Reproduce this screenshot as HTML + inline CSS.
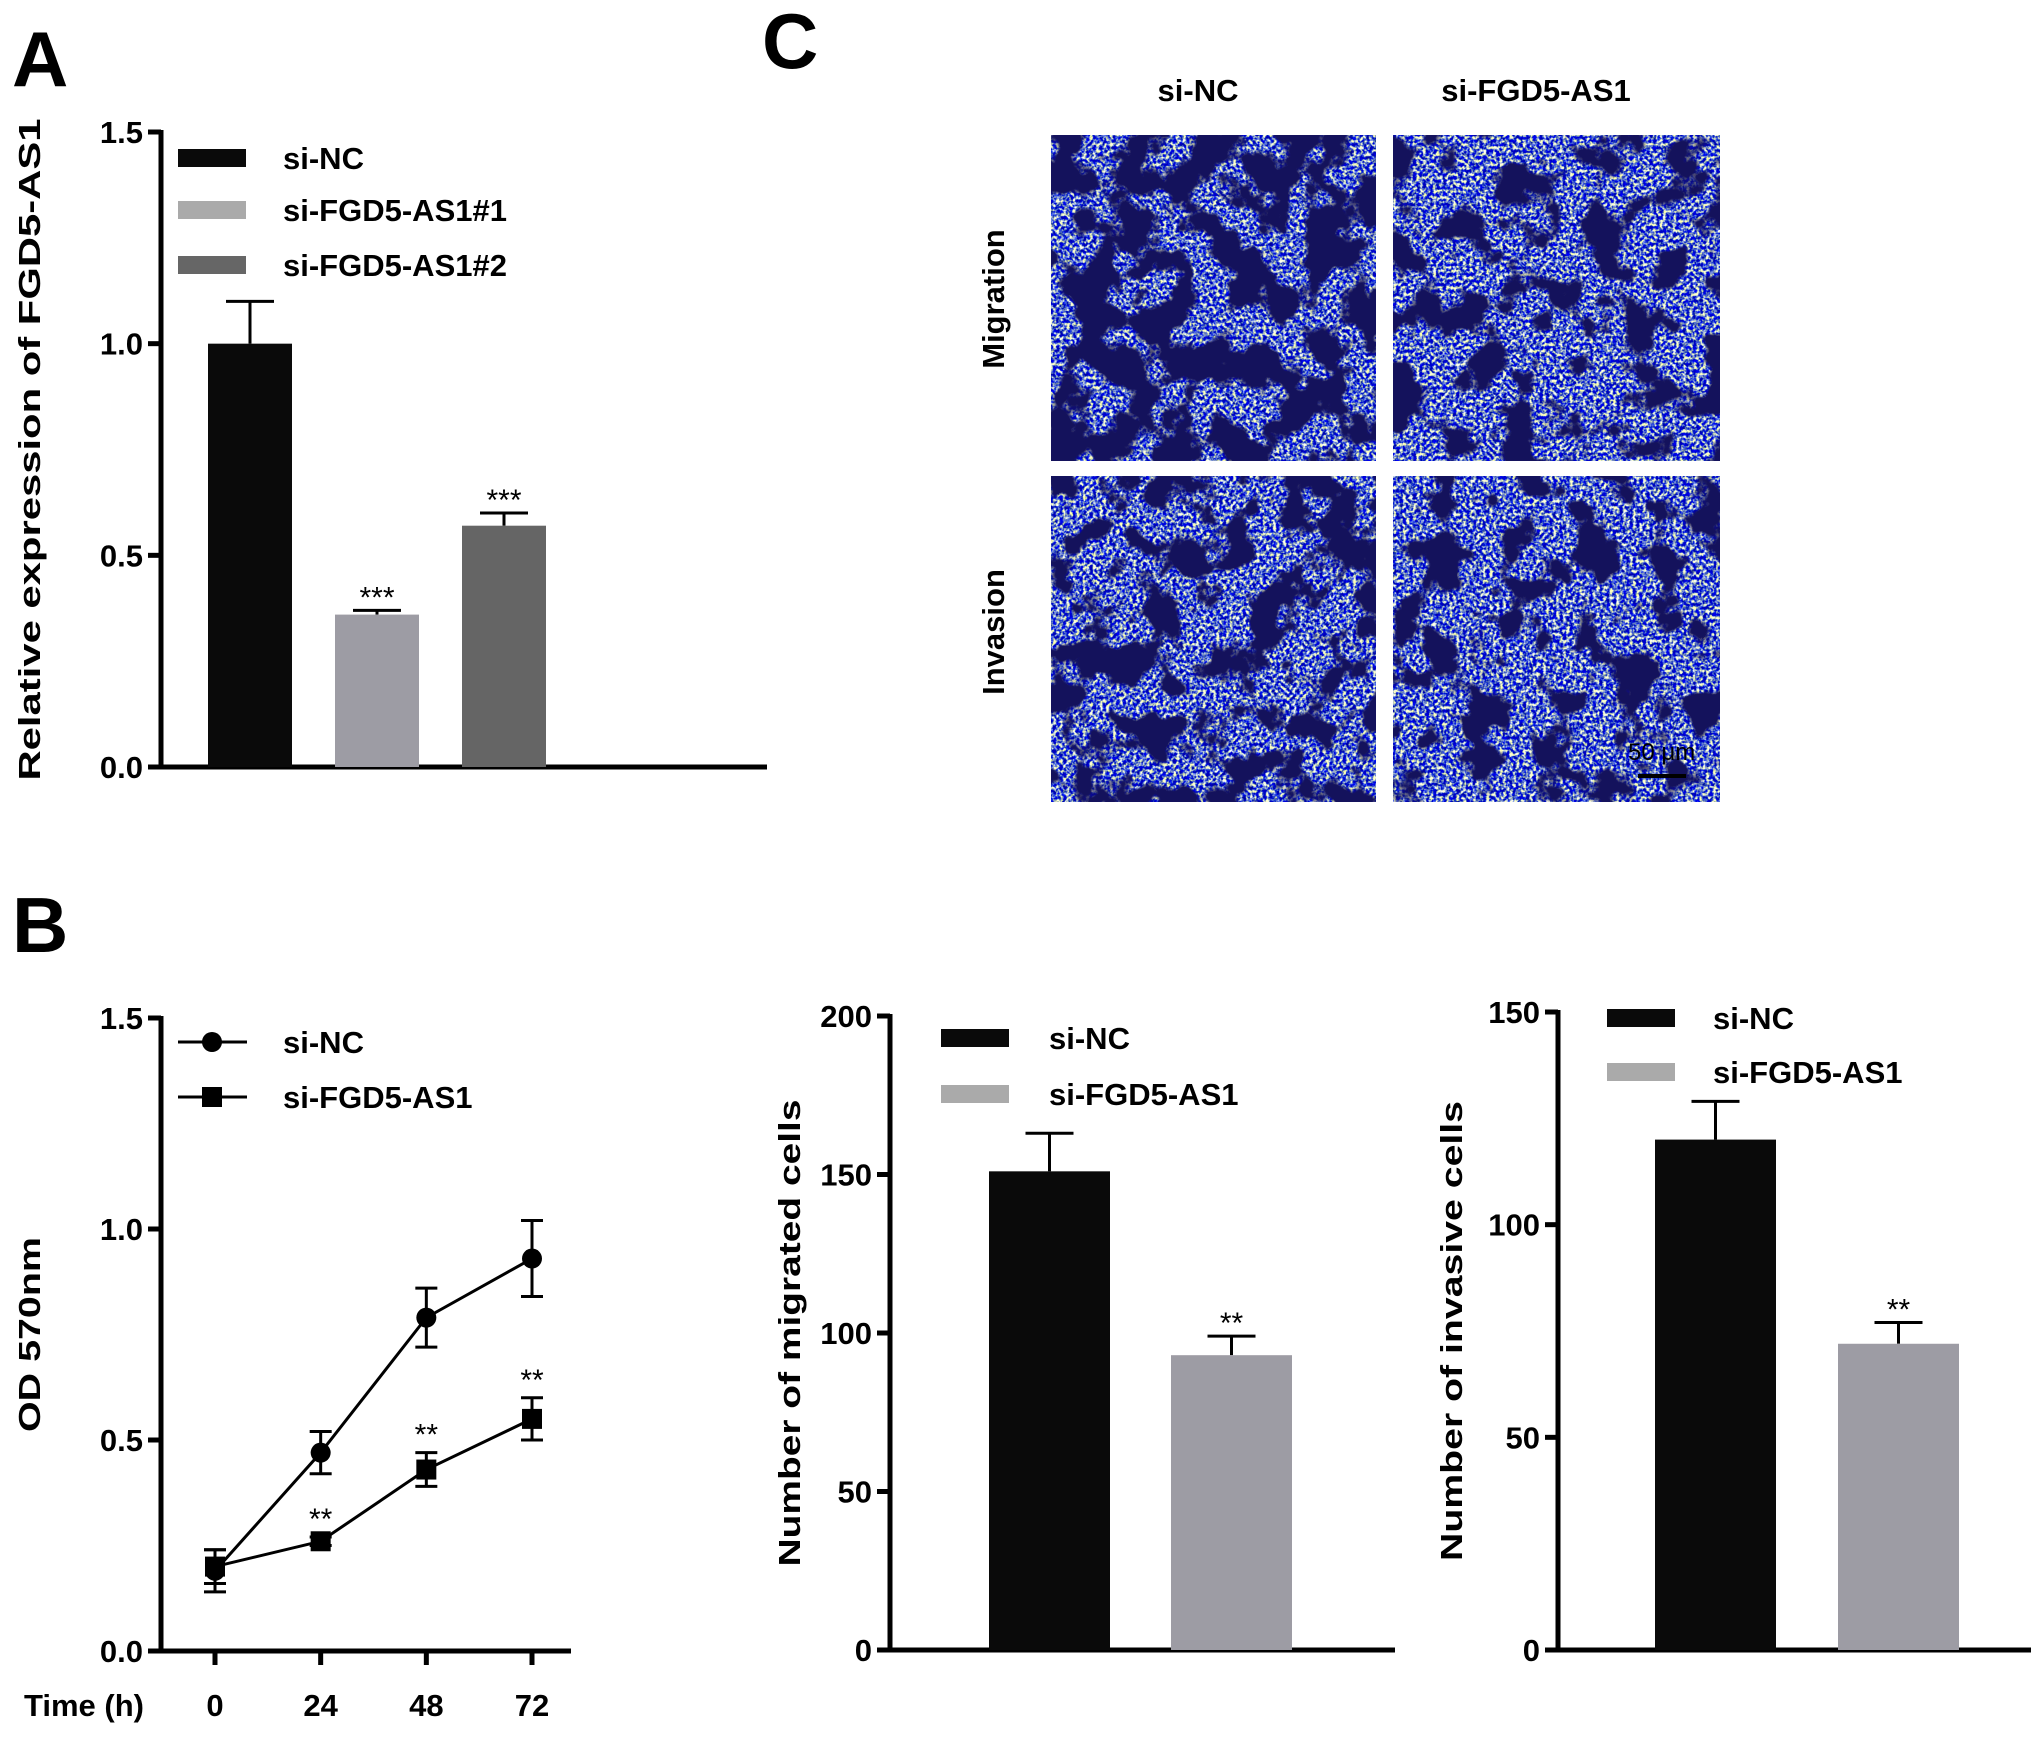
<!DOCTYPE html>
<html><head><meta charset="utf-8"><style>
html,body{margin:0;padding:0;background:#fff}
svg{display:block;font-family:"Liberation Sans",Arial,sans-serif;font-weight:bold}
</style></head><body>
<svg id="fig" width="2031" height="1737" viewBox="0 0 2031 1737" xmlns="http://www.w3.org/2000/svg">
<defs>
<filter id="cellsA" x="0" y="0" width="1" height="1" filterUnits="objectBoundingBox" color-interpolation-filters="sRGB">
 <feTurbulence type="fractalNoise" baseFrequency="0.026" numOctaves="3" seed="3" result="t"/>
 <feColorMatrix in="t" type="matrix" values="0 0 0 0 0.08  0 0 0 0 0.07  0 0 0 0 0.36  -10 0 0 0 5.6" result="dark"/>
 <feTurbulence type="fractalNoise" baseFrequency="0.3" numOctaves="2" seed="7" result="f"/>
 <feColorMatrix in="f" type="matrix" values="3.5 0 0 0 -1.45  3.2 0 0 0 -1.2  0 0 0.6 0 0.5  0 0 0 0 1" result="light"/>
 <feComposite in="dark" in2="light" operator="over"/>
</filter>
<filter id="cellsB" x="0" y="0" width="1" height="1" filterUnits="objectBoundingBox" color-interpolation-filters="sRGB">
 <feTurbulence type="fractalNoise" baseFrequency="0.024" numOctaves="3" seed="11" result="t"/>
 <feColorMatrix in="t" type="matrix" values="0 0 0 0 0.08  0 0 0 0 0.07  0 0 0 0 0.36  -10 0 0 0 5.0" result="dark"/>
 <feTurbulence type="fractalNoise" baseFrequency="0.3" numOctaves="2" seed="5" result="f"/>
 <feColorMatrix in="f" type="matrix" values="3.5 0 0 0 -1.45  3.2 0 0 0 -1.2  0 0 0.6 0 0.5  0 0 0 0 1" result="light"/>
 <feComposite in="dark" in2="light" operator="over"/>
</filter>
<filter id="cellsC" x="0" y="0" width="1" height="1" filterUnits="objectBoundingBox" color-interpolation-filters="sRGB">
 <feTurbulence type="fractalNoise" baseFrequency="0.028" numOctaves="3" seed="21" result="t"/>
 <feColorMatrix in="t" type="matrix" values="0 0 0 0 0.08  0 0 0 0 0.07  0 0 0 0 0.36  -10 0 0 0 5.2" result="dark"/>
 <feTurbulence type="fractalNoise" baseFrequency="0.3" numOctaves="2" seed="9" result="f"/>
 <feColorMatrix in="f" type="matrix" values="3.5 0 0 0 -1.45  3.2 0 0 0 -1.2  0 0 0.6 0 0.5  0 0 0 0 1" result="light"/>
 <feComposite in="dark" in2="light" operator="over"/>
</filter>
<filter id="cellsD" x="0" y="0" width="1" height="1" filterUnits="objectBoundingBox" color-interpolation-filters="sRGB">
 <feTurbulence type="fractalNoise" baseFrequency="0.026" numOctaves="3" seed="33" result="t"/>
 <feColorMatrix in="t" type="matrix" values="0 0 0 0 0.08  0 0 0 0 0.07  0 0 0 0 0.36  -10 0 0 0 4.9" result="dark"/>
 <feTurbulence type="fractalNoise" baseFrequency="0.3" numOctaves="2" seed="13" result="f"/>
 <feColorMatrix in="f" type="matrix" values="3.5 0 0 0 -1.45  3.2 0 0 0 -1.2  0 0 0.6 0 0.5  0 0 0 0 1" result="light"/>
 <feComposite in="dark" in2="light" operator="over"/>
</filter>
</defs>

<text x="12" y="86" font-size="78">A</text>
<text x="12" y="952" font-size="78">B</text>
<text x="762" y="68" font-size="78">C</text>

<g>
<text x="1198" y="101" font-size="31" text-anchor="middle">si-NC</text>
<text x="1536" y="101" font-size="31" text-anchor="middle">si-FGD5-AS1</text>
<text transform="translate(1004,299) rotate(-90)" font-size="31" text-anchor="middle">Migration</text>
<text transform="translate(1004,632) rotate(-90)" font-size="31" text-anchor="middle">Invasion</text>
<rect x="1051" y="135" width="325" height="326" fill="#22206a" filter="url(#cellsA)"/>
<rect x="1393" y="135" width="327" height="326" fill="#22206a" filter="url(#cellsB)"/>
<rect x="1051" y="476" width="325" height="326" fill="#22206a" filter="url(#cellsC)"/>
<rect x="1393" y="476" width="327" height="326" fill="#22206a" filter="url(#cellsD)"/>
<text x="1628" y="760" font-size="24" font-weight="normal" fill="#000">50 μm</text>
<line x1="1638" y1="776" x2="1686" y2="776" stroke="#000" stroke-width="4"/>
</g>

<g id="chartA"></g>
<g id="chartB"></g>
<g id="chartM"></g>
<g id="chartI"></g>
</svg>
<script>
// Panel A data
const aCategories = ["si-NC", "si-FGD5-AS1#1", "si-FGD5-AS1#2"];
const aValues = [1.0, 0.36, 0.57];
const aErrors = [0.10, 0.01, 0.03];
const aStars = ["", "***", "***"];
const aTicks = [0.0, 0.5, 1.0, 1.5];
const aTickLabels = ["0.0", "0.5", "1.0", "1.5"];
// Panel B data
const bTimes = [0, 24, 48, 72];
const bTickLabels = ["0", "24", "48", "72"];
const bNC = [0.19, 0.47, 0.79, 0.93];
const bNCErr = [0.05, 0.05, 0.07, 0.09];
const bSi = [0.20, 0.26, 0.43, 0.55];
const bSiErr = [0.04, 0.01, 0.04, 0.05];
const bStars = ["", "**", "**", "**"];
const bYTicks = [0.0, 0.5, 1.0, 1.5];
const bYTickLabels = ["0.0", "0.5", "1.0", "1.5"];
// Migration data
const mCategories = ["si-NC", "si-FGD5-AS1"];
const mValues = [151, 93];
const mErrors = [12, 6];
const mStars = ["", "**"];
const mTicks = [0, 50, 100, 150, 200];
// Invasion data
const iCategories = ["si-NC", "si-FGD5-AS1"];
const iValues = [120, 72];
const iErrors = [9, 5];
const iStars = ["", "**"];
const iTicks = [0, 50, 100, 150];

const NS = "http://www.w3.org/2000/svg";
function mk(parent, tag, attrs, text) {
  const e = document.createElementNS(NS, tag);
  for (const k in attrs) e.setAttribute(k, attrs[k]);
  if (text !== undefined) e.textContent = text;
  parent.appendChild(e);
  return e;
}
function linear(d0, d1, r0, r1) { return v => r0 + (v - d0) / (d1 - d0) * (r1 - r0); }

function axes(g, x0, xEnd, yS, ticks, labels, title, titleX, titleLen) {
  const yTop = yS(ticks[ticks.length - 1]);
  const yBot = yS(ticks[0]);
  const ax = mk(g, "line", {x1: x0, y1: yTop - 2, x2: x0, y2: yBot + 2.5, stroke: "#000", "stroke-width": 5});
  
  
  const bx = mk(g, "line", {x1: x0 - 13, y1: yBot, x2: xEnd, y2: yBot, stroke: "#000", "stroke-width": 5});
  
  
  ticks.forEach((t, i) => {
    const y = yS(t);
    const tk = mk(g, "line", {x1: x0 - 13, y1: y, x2: x0, y2: y, stroke: "#000", "stroke-width": 5});
    
    
    const tl = mk(g, "text", {x: x0 - 18, y: y + 11, "font-size": 31, "text-anchor": "end"}, labels[i]);
    
    
  });
  const cy = (yTop + yBot) / 2;
  const tt = mk(g, "text", {transform: `translate(${titleX},${cy}) rotate(-90)`, "font-size": 31, "text-anchor": "middle", textLength: titleLen, lengthAdjust: "spacingAndGlyphs"}, title);
  
  
}

function legendBars(g, x, ys, names, colors, tx) {
  names.forEach((n, i) => {
    const r = mk(g, "rect", {x: x, y: ys[i] - 9, width: 68, height: 18, fill: colors[i]});
    
    
    const t = mk(g, "text", {x: tx, y: ys[i] + 11, "font-size": 31}, n);
    
    
  });
}

function barChart(g, cfg) {
  const yS = linear(cfg.ticks[0], cfg.ticks[cfg.ticks.length - 1], cfg.yBot, cfg.yTop);
  axes(g, cfg.x0, cfg.xEnd, yS, cfg.ticks, cfg.tickLabels, cfg.title, cfg.titleX, cfg.titleLen);
  cfg.values.forEach((v, i) => {
    const bx = cfg.barX0 + i * cfg.barStep;
    const y = yS(v);
    const ye = yS(v + cfg.errors[i]);
    const cx = bx + cfg.barW / 2;
    const el = mk(g, "line", {x1: cx, y1: y, x2: cx, y2: ye, stroke: "#000", "stroke-width": 3});
    
    
    const ec = mk(g, "line", {x1: cx - 24, y1: ye, x2: cx + 24, y2: ye, stroke: "#000", "stroke-width": 3});
    
    
    const r = mk(g, "rect", {x: bx, y: y, width: cfg.barW, height: cfg.yBot - y, fill: cfg.colors[i]});
    
    
    if (cfg.stars[i]) {
      const s = mk(g, "text", {x: cx, y: ye - 3, "font-size": 30, "font-weight": "normal", "text-anchor": "middle"}, cfg.stars[i]);
      
      
    }
  });
  legendBars(g, cfg.legX, cfg.legYs, cfg.categories, cfg.legColors, cfg.legTX);
}

// Panel A
barChart(document.getElementById("chartA"), {
  ticks: aTicks, tickLabels: aTickLabels, yTop: 132, yBot: 767, x0: 161, xEnd: 767,
  title: "Relative expression of FGD5-AS1", titleX: 40, titleLen: 662,
  values: aValues, errors: aErrors, stars: aStars, categories: aCategories,
  barX0: 208, barStep: 127, barW: 84, colors: ["#0a0a0a", "#9d9ca4", "#656565"],
  legX: 178, legYs: [158, 210, 265], legColors: ["#0a0a0a", "#aaaaaa", "#666666"], legTX: 283
});

// Migration
barChart(document.getElementById("chartM"), {
  ticks: mTicks, tickLabels: mTicks.map(String), yTop: 1016, yBot: 1650, x0: 890, xEnd: 1395,
  title: "Number of migrated cells", titleX: 800, titleLen: 467,
  values: mValues, errors: mErrors, stars: mStars, categories: mCategories,
  barX0: 989, barStep: 182, barW: 121, colors: ["#0a0a0a", "#9d9ca4"],
  legX: 941, legYs: [1038, 1094], legColors: ["#0a0a0a", "#aaaaaa"], legTX: 1049
});

// Invasion
barChart(document.getElementById("chartI"), {
  ticks: iTicks, tickLabels: iTicks.map(String), yTop: 1012, yBot: 1650, x0: 1558, xEnd: 2031,
  title: "Number of invasive cells", titleX: 1462, titleLen: 460,
  values: iValues, errors: iErrors, stars: iStars, categories: iCategories,
  barX0: 1655, barStep: 183, barW: 121, colors: ["#0a0a0a", "#9d9ca4"],
  legX: 1607, legYs: [1018, 1072], legColors: ["#0a0a0a", "#aaaaaa"], legTX: 1713
});

// Panel B line chart
(function () {
  const g = document.getElementById("chartB");
  const yS = linear(0, 1.5, 1651, 1018);
  const xS = linear(0, 72, 215, 532);
  axes(g, 161, 571, yS, bYTicks, bYTickLabels, "OD 570nm", 40, 195);
  bTimes.forEach((t, i) => {
    const x = xS(t);
    const tk = mk(g, "line", {x1: x, y1: 1651, x2: x, y2: 1665, stroke: "#000", "stroke-width": 5});
    
    
    const tl = mk(g, "text", {x: x, y: 1716, "font-size": 31, "text-anchor": "middle"}, bTickLabels[i]);
    
    
  });
  const xt = mk(g, "text", {x: 24, y: 1716, "font-size": 31}, "Time (h)");
  
  

  function series(vals, errs, marker, name) {
    const pts = vals.map((v, i) => xS(bTimes[i]) + "," + yS(v)).join(" ");
    const pl = mk(g, "polyline", {points: pts, fill: "none", stroke: "#000", "stroke-width": 3});
    
    
    vals.forEach((v, i) => {
      const x = xS(bTimes[i]);
      const e = mk(g, "path", {d: `M${x - 11},${yS(v + errs[i])}H${x + 11}M${x},${yS(v + errs[i])}V${yS(v - errs[i])}M${x - 11},${yS(v - errs[i])}H${x + 11}`, stroke: "#000", "stroke-width": 3, fill: "none"});
      
      
      let m;
      if (marker === "circle") m = mk(g, "circle", {cx: x, cy: yS(v), r: 10, fill: "#000"});
      else m = mk(g, "rect", {x: x - 10, y: yS(v) - 10, width: 20, height: 20, fill: "#000"});
      
      
    });
  }
  series(bNC, bNCErr, "circle", "si-nc");
  series(bSi, bSiErr, "square", "si-fgd5-as1");
  bSi.forEach((v, i) => {
    if (!bStars[i]) return;
    const s = mk(g, "text", {x: xS(bTimes[i]), y: yS(v + bSiErr[i]) - 8, "font-size": 30, "font-weight": "normal", "text-anchor": "middle"}, bStars[i]);
    
    
  });
  // legend
  const legYs = [1042, 1097];
  const legNames = ["si-NC", "si-FGD5-AS1"];
  legYs.forEach((y, i) => {
    const l = mk(g, "line", {x1: 178, y1: y, x2: 247, y2: y, stroke: "#000", "stroke-width": 3});
    
    
    let m;
    if (i === 0) m = mk(g, "circle", {cx: 212, cy: y, r: 10, fill: "#000"});
    else m = mk(g, "rect", {x: 202, y: y - 10, width: 20, height: 20, fill: "#000"});
    
    
    const t = mk(g, "text", {x: 283, y: y + 11, "font-size": 31}, legNames[i]);
    
    
  });
})();
</script>
</body></html>
